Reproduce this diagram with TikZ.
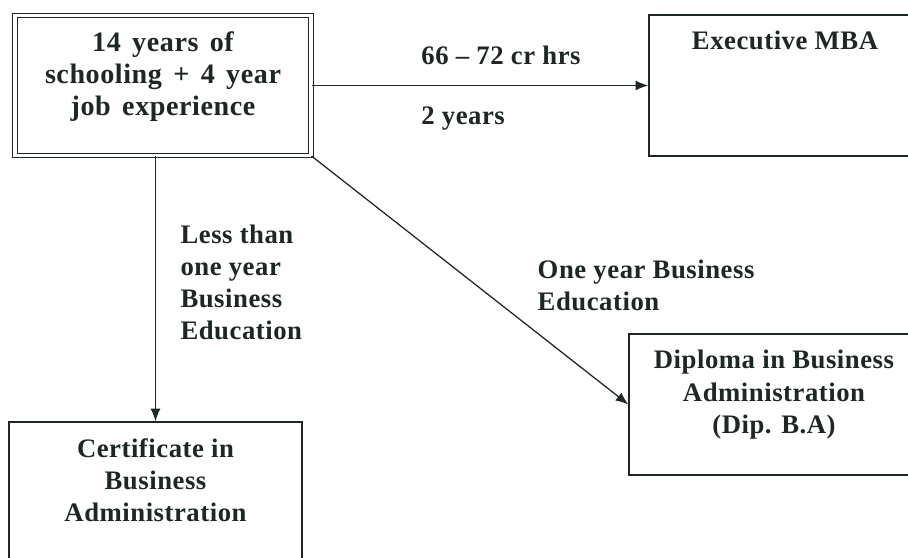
\documentclass[tikz,border=0pt]{standalone}
\usepackage{fontspec}
\setmainfont{Liberation Serif}[LetterSpace=2]
\newfontfamily\wideserif{Liberation Serif}[LetterSpace=2, WordSpace=1.5]
\usetikzlibrary{arrows.meta}
\usetikzlibrary{positioning}

\definecolor{inkgray}{RGB}{30,38,38}

\begin{document}
\begin{tikzpicture}[
        font=\fontsize{19}{22.8}\selectfont\bfseries,
        every node/.style={text=inkgray},
        box/.style={draw=inkgray, line width=0.9pt, inner sep=0pt},
        boxtext/.style={align=center, inner sep=0pt},
        lbl/.style={align=left, inner sep=0pt},
        arr/.style={draw=inkgray, line width=0.9pt, -{Latex[length=9pt,width=7pt]}}
    ]
    \useasboundingbox (0,0) rectangle (22.7,13.95);
    % boxes
    \node[box, double, double distance=0.09cm, line width=0.8pt, minimum width=7.4cm, minimum height=3.5cm] (job) at (4.075,11.8125) {};
    \node[box, minimum width=7.15cm, minimum height=3.525cm] (mba) at (19.8,11.8125) {};
    \node[box, minimum width=7.65cm, minimum height=3.525cm] (dip) at (19.55,3.8375) {};
    \node[box, minimum width=7.325cm, minimum height=3.7cm] (cert) at (3.8875,1.55) {};
    % box texts
    \node[boxtext, font=\wideserif\fontsize{20}{22.8}\selectfont\bfseries,
        below=0.42cm of job.north] (jobtxt) {14 years of\\schooling + 4 year\\job experience};
    \node[boxtext, below=0.42cm of mba.north, xshift=-0.175cm] (mbatxt) {Executive MBA};
    \node[boxtext, below=0.42cm of dip.north, xshift=-0.2cm] (diptxt) {Diploma in Business\\Administration\\(Dip. B.A)};
    \node[boxtext, below=0.42cm of cert.north] (certtxt) {Certificate in\\Business\\Administration};
    % connectors
    \draw[arr] (job.east) -- node[lbl, above=0.51cm, pos=0.5625] (hrs) {66 -- 72 cr hrs}
        node[lbl, below=0.51cm, pos=0.45] (yrs) {2 years} (mba.west);
    \draw[arr] (cert.north |- job.south) -- node[lbl, right=0.61cm, pos=0.475] (less) {Less than\\one year\\Business\\Education} (cert.north);
    \draw[arr] (job.south east) -- node[lbl, pos=0.52, anchor=west, xshift=1.52cm] (oneyr) {One year Business\\Education} (dip.west);
\end{tikzpicture}
\end{document}
